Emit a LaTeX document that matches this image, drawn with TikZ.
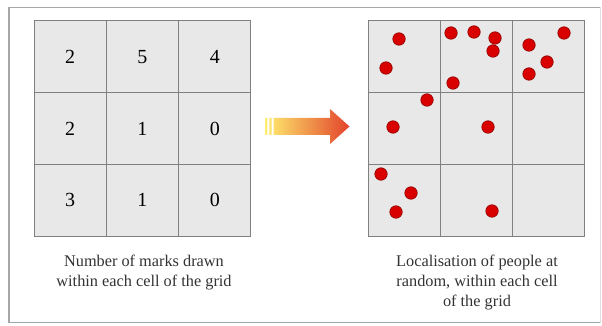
\documentclass[tikz,border=0pt]{standalone}
\usepackage{fontspec}
\setmainfont{Liberation Serif}
\definecolor{arrowA}{HTML}{FFEE70}
\definecolor{arrowB}{HTML}{F4A650}
\definecolor{arrowC}{HTML}{E2432A}
\begin{document}
\begin{tikzpicture}[x=1pt,y=-1pt,
  cellbox/.style={draw=black!50, line width=1pt, fill=black!9, minimum width=72.3pt, minimum height=71.7pt, inner sep=0pt, font=\fontsize{20}{24}\selectfont},
  dot/.style={circle, fill=red!85!black, draw=red!55!black, line width=0.6pt, minimum size=12.5pt, inner sep=0pt},
  caption/.style={align=center, inner sep=0pt, anchor=north, text=black!80, font=\fontsize{16.3}{19.8}\selectfont}]
\useasboundingbox (0,0) rectangle (602,326);
\fill[white] (0,0) rectangle (602,326);
\draw[black!35, line width=1.1pt] (600,7.5) -- (9,7.5) -- (9,322.5) -- (600,322.5);
\draw[black!12, line width=1pt] (600,7.5) -- (600,322.5);
% left grid
\foreach \r/\a/\b/\c [count=\i] in {0/2/5/4, 1/2/1/0, 2/3/1/0} {
  \node[cellbox] (L\i a) at (34+36.15, 21+35.85+71.7*\r) {\a};
  \node[cellbox] (L\i b) at (34+36.15+72.3, 21+35.85+71.7*\r) {\b};
  \node[cellbox] (L\i c) at (34+36.15+144.6, 21+35.85+71.7*\r) {\c};
}
% right grid
\foreach \r [count=\i] in {0,1,2} {
  \foreach \col/\n in {0/a,1/b,2/c} {
    \node[cellbox] (R\i\n) at (368+36.15+72.3*\col, 21+35.85+71.7*\r) {};
  }
}
% dots
\foreach \x/\y [count=\k] in {399/39, 386/68, 451/33, 474/32, 495/38, 493/51, 453/83, 529/45, 564/33, 547/62, 529/74, 427/100, 393/127, 488/127, 381/174, 411/193, 396/212, 492/211} {
  \node[dot] (d\k) at (\x,\y) {};
}
% arrow
\shade[left color=arrowA, middle color=arrowB, right color=arrowC]
  (265,118) rectangle (267.3,135)
  (269.3,118) rectangle (271.5,135)
  (273.5,118) -- (330,118) -- (330,109) -- (349.5,126.5) -- (330,144) -- (330,135) -- (273.5,135) -- cycle;
% captions
\node[caption] (capL) at (144,255) {Number of marks drawn\\within each cell of the grid};
\node[caption] (capR) at (477,255) {Localisation of people at\\random, within each cell\\of the grid};
\end{tikzpicture}
\end{document}
